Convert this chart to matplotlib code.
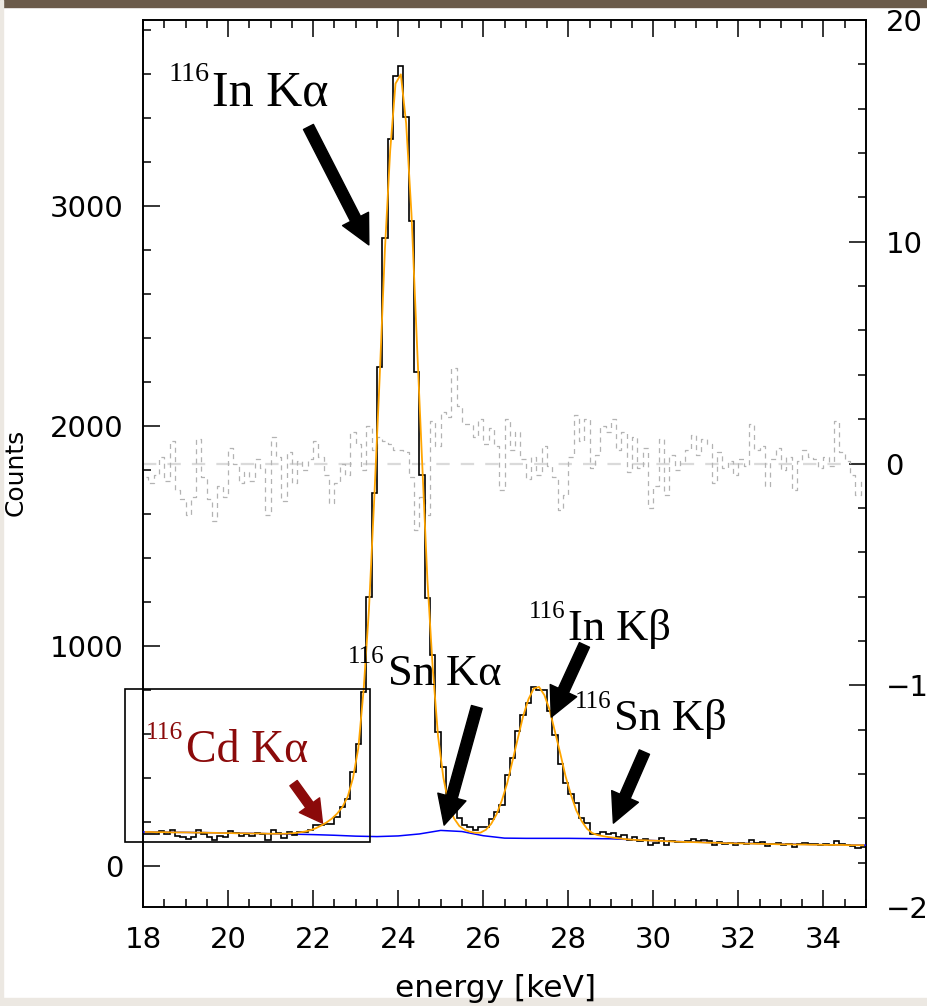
import numpy as np
import matplotlib
matplotlib.use("Agg")
import matplotlib.pyplot as plt
from matplotlib.patches import Rectangle
from matplotlib.ticker import MultipleLocator

# ---------------- data ----------------
bin_start = 18.0
bin_width = 0.125
counts = [148, 144, 148, 158, 144, 165, 138, 133, 125, 134,
          166, 145, 131, 119, 138, 132, 159, 149, 138, 144,
          138, 150, 146, 119, 162, 151, 126, 154, 139, 154,
          153, 166, 185, 188, 191, 189, 224, 268, 306, 428,
          556, 792, 1223, 1695, 2266, 2853, 3303, 3592, 3634, 3404,
          2931, 2246, 1776, 1216, 957, 609, 448, 315, 280, 217,
          188, 178, 166, 177, 177, 214, 247, 277, 415, 491,
          612, 686, 739, 816, 800, 799, 706, 596, 464, 379,
          329, 288, 219, 196, 148, 146, 156, 148, 152, 133,
          139, 117, 132, 116, 125, 94, 104, 126, 98, 116,
          108, 111, 115, 123, 112, 118, 115, 97, 110, 102,
          105, 98, 105, 101, 120, 107, 109, 90, 102, 106,
          96, 102, 86, 99, 104, 100, 99, 95, 99, 95,
          115, 101, 96, 90, 81, 87]

fit_total = [155, 155, 154, 154, 154, 153, 153, 153, 153, 152,
             152, 152, 151, 151, 150, 150, 150, 149, 149, 149,
             148, 148, 148, 147, 147, 147, 147, 148, 150, 153,
             157, 163, 172, 184, 198, 215, 238, 268, 315, 400,
             535, 800, 1165, 1670, 2210, 2800, 3252, 3556, 3598, 3375,
             2964, 2393, 1840, 1299, 900, 590, 402, 280, 217, 182,
             165, 156, 151, 152, 165, 192, 235, 298, 376, 478,
             578, 681, 758, 807, 814, 777, 709, 611, 511, 407,
             324, 253, 205, 170, 150, 141, 136, 132, 129, 126,
             123, 121, 119, 118, 117, 116, 115, 114, 113, 112,
             111, 110, 109, 109, 108, 107, 106, 106, 105, 104,
             104, 103, 103, 102, 102, 101, 101, 100, 100, 99,
             99, 99, 98, 98, 98, 97, 97, 97, 96, 96,
             96, 96, 95, 95, 95, 95]

residuals = [-0.6, -0.9, -0.5, 0.3, -0.8, 1.0, -1.2, -1.6, -2.3, -1.5,
             1.1, -0.6, -1.6, -2.6, -1.0, -1.5, 0.7, 0.0, -0.9, -0.4,
             -0.8, 0.2, -0.2, -2.3, 1.2, 0.3, -1.7, 0.5, -0.9, 0.1,
             -0.3, 0.2, 1.0, 0.3, -0.5, -1.8, -0.9, 0.0, -0.5, 1.4,
             0.9, -0.3, 1.7, 0.6, 1.2, 1.0, 0.9, 0.6, 0.6, 0.5,
             -0.6, -3.0, -1.5, -2.3, 1.9, 0.8, 2.3, 2.1, 4.3, 2.6,
             1.8, 1.8, 1.2, 2.0, 0.9, 1.6, 0.8, -1.2, 2.0, 0.6,
             1.4, 0.2, -0.7, 0.3, -0.5, 0.8, -0.1, -0.6, -2.1, -1.4,
             0.3, 2.2, 1.0, 2.0, -0.2, 0.4, 1.7, 1.4, 2.0, 0.6,
             1.4, -0.4, 1.2, -0.2, 0.7, -2.0, -1.0, 1.1, -1.4, 0.4,
             -0.3, 0.1, 0.6, 1.3, 0.4, 1.1, 0.9, -0.9, 0.5, -0.2,
             0.1, -0.5, 0.2, -0.1, 1.8, 0.6, 0.8, -1.0, 0.2, 0.7,
             -0.3, 0.3, -1.2, 0.1, 0.6, 0.3, 0.2, -0.2, 0.3, -0.1,
             1.9, 0.5, 0.1, -0.5, -1.4, -0.8]

bg_energy = [18.0, 18.5, 19.0, 19.5, 20.0, 20.5, 21.0, 21.5, 22.0, 22.5,
             23.0, 23.5, 24.0, 24.5, 25.0, 25.5, 26.0, 26.5, 27.0, 27.5,
             28.0, 28.5, 29.0, 29.5, 30.0, 30.5, 31.0, 31.5, 32.0, 32.5,
             33.0, 33.5, 34.0, 34.5, 35.0]
bg_counts = [155, 154, 153, 152, 150, 149, 147, 145, 143, 140,
             136, 134, 137, 146, 162, 157, 138, 127, 126, 126,
             126, 125, 124, 120, 116, 112, 109, 106, 104, 102,
             100, 99, 97, 96, 95]

x_ticks = [18, 20, 22, 24, 26, 28, 30, 32, 34]
y_ticks = [0, 1000, 2000, 3000]
res_ticks = [-20, -10, 0, 10, 20]

# annotations: (main text, superscript, anchor x, anchor y, colour, size)
labels = [("In K\u03b1", "116", 19.63, 3455, "black", 36),
          ("Sn K\u03b1", "116", 23.75, 823, "black", 32),
          ("In K\u03b2", "116", 28.00, 1027, "black", 32),
          ("Sn K\u03b2", "116", 29.08, 618, "black", 32),
          ("Cd K\u03b1", "116", 19.01, 473, "#8b0a0a", 33)]
# arrows: (tail x, tail y, head x, head y, colour)
arrows = [(21.89, 3359, 23.31, 2823, "black"),
          (25.85, 723, 25.08, 186, "black"),
          (28.38, 1005, 27.60, 677, "black"),
          (29.79, 518, 29.06, 195, "black"),
          (21.54, 377, 22.22, 195, "#8b0a0a")]
box_x0, box_x1, box_y0, box_y1 = 17.58, 23.33, 109, 805

# ---------------- figure ----------------
n_bins = len(counts)
edges = bin_start + bin_width * np.arange(n_bins + 1)
centers = 0.5 * (edges[:-1] + edges[1:])

fig = plt.figure(figsize=(9.28, 10.06), dpi=100, facecolor="white")
# frame decorations of the screenshot
fig.patches.append(Rectangle((0, 1 - 7 / 1006), 1, 7 / 1006, transform=fig.transFigure,
                             color="#6b5b4a", zorder=0))
fig.patches.append(Rectangle((0, 0), 3 / 928, 1, transform=fig.transFigure,
                             color="#ece8e2", zorder=0))
fig.patches.append(Rectangle((0, 0), 1, 8 / 1006, transform=fig.transFigure,
                             color="#ece8e2", zorder=0))

ax = fig.add_axes([143 / 928, 99 / 1006, 723 / 928, 887 / 1006])
tw = ax.twinx()
ax.set_zorder(tw.get_zorder() + 1)
ax.patch.set_visible(False)

# residuals (right axis)
tw.axhline(0, color="#dadada", lw=1.6, ls=(0, (6, 5)), zorder=1)
tw.plot(centers, residuals, drawstyle="steps-mid", color="#b3b3b3", lw=0.9,
        ls=(0, (4, 3.5)), zorder=2)
tw.set_ylim(-20, 20)
tw.set_yticks(res_ticks)
tw.set_yticklabels([("\u2212" + str(-v) if v < 0 else str(v)) for v in res_ticks])
tw.yaxis.set_minor_locator(MultipleLocator(2))

# main spectrum
ax.plot(bg_energy, bg_counts, color="#0000ff", lw=1.1, zorder=3)
ax.stairs(counts, edges, baseline=None, color="black", lw=1.2, zorder=4)
ax.plot(centers, fit_total, color="#ffa500", lw=1.3, zorder=5)

ax.set_xlim(18, 35)
ax.set_ylim(-186, 3845)
ax.set_xticks(x_ticks)
ax.set_yticks(y_ticks)
ax.xaxis.set_minor_locator(MultipleLocator(0.5))
ax.yaxis.set_minor_locator(MultipleLocator(200))

for lab in ax.get_xticklabels() + ax.get_yticklabels() + tw.get_yticklabels():
    lab.set_fontfamily("DejaVu Sans")
    lab.set_fontsize(21)

ax.tick_params(which="both", direction="in", top=True, bottom=True,
               left=True, right=False, width=1.1, colors="black")
ax.tick_params(which="major", length=12, pad=14)
ax.tick_params(which="minor", length=5.5)
tw.tick_params(which="both", direction="in", right=True, left=False, width=1.1)
tw.tick_params(which="major", length=12, pad=14)
tw.tick_params(which="minor", length=5.5)

for a in (ax, tw):
    for s in a.spines.values():
        s.set_linewidth(1.2)
        s.set_color("black")

ax.set_xlabel("energy [keV]", fontsize=22.5, family="DejaVu Sans")
ax.set_ylabel("Counts", fontsize=18, family="DejaVu Sans")
ax.yaxis.set_label_coords(-0.160, 0.49)
ax.xaxis.set_label_coords(0.487, -0.076)

# region box
ax.add_patch(Rectangle((box_x0, box_y0), box_x1 - box_x0, box_y1 - box_y0,
                       fill=False, edgecolor="black", lw=1.2, clip_on=False, zorder=6))

# arrows
for tx, ty, hx, hy, col in arrows:
    small = (col != "black")
    ax.annotate("", xy=(hx, hy), xytext=(tx, ty),
                arrowprops=dict(facecolor=col, edgecolor=col,
                                width=6.5 if small else 8,
                                headwidth=18 if small else 21,
                                headlength=16 if small else 21,
                                shrink=0.0),
                zorder=7, annotation_clip=False)

# labels
for text, sup, lx, ly, col, size in labels:
    ax.annotate(text, xy=(lx, ly), ha="left", va="baseline", fontsize=size,
                family="Liberation Serif", color=col, zorder=8, annotation_clip=False)
    ax.annotate(sup, xy=(lx, ly), xytext=(-2, size * 0.5), textcoords="offset points",
                ha="right", va="baseline", fontsize=size * 0.56, family="Liberation Serif",
                color=col, zorder=8, annotation_clip=False)

fig.savefig("out.png", dpi=100, facecolor="white")
